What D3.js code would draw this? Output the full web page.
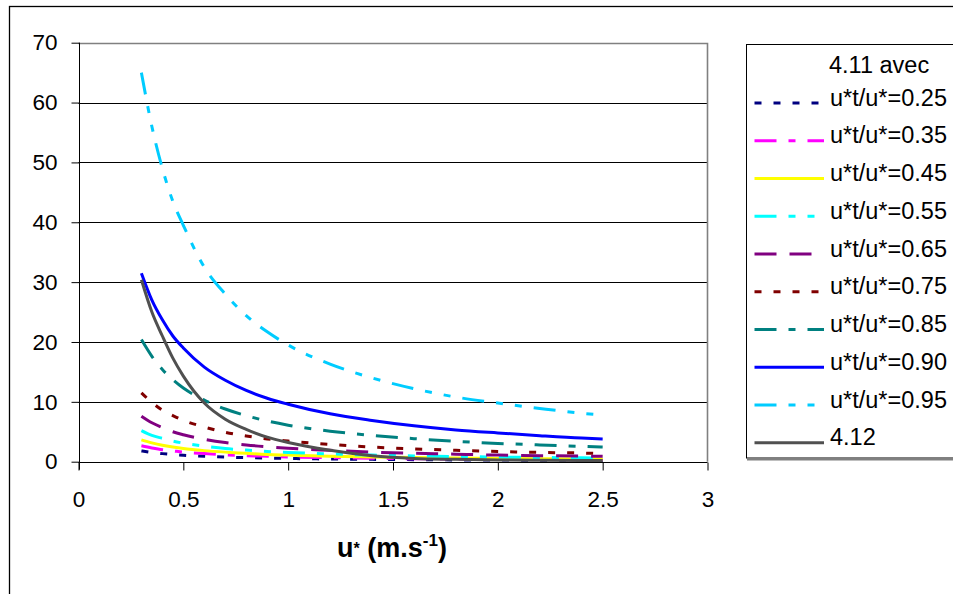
<!DOCTYPE html>
<html>
<head>
<meta charset="utf-8">
<script src="https://cdn.jsdelivr.net/npm/d3@7"></script>
<style>
  html, body { margin: 0; padding: 0; background: #fff; }
  svg { display: block; }
  text { font-family: "Liberation Sans", Arial, sans-serif; fill: #000; }
</style>
</head>
<body>
<svg id="chart" width="953" height="594"></svg>
<script>
// ---- data ----
const uValues = [0.3, 0.35, 0.4, 0.45, 0.5, 0.6, 0.7, 0.8, 0.9, 1.0, 1.2, 1.4, 1.6, 1.8, 2.0, 2.2, 2.4, 2.5];

const s025 = [1.8, 1.55, 1.35, 1.2, 1.08, 0.9, 0.77, 0.68, 0.6, 0.54, 0.45, 0.39, 0.34, 0.3, 0.27, 0.25, 0.23, 0.22];
const s035 = [2.65, 2.3, 2.0, 1.8, 1.6, 1.35, 1.15, 1.0, 0.9, 0.8, 0.67, 0.57, 0.5, 0.45, 0.4, 0.36, 0.33, 0.32];
const s045 = [3.65, 3.15, 2.75, 2.45, 2.2, 1.85, 1.6, 1.4, 1.2, 1.1, 0.92, 0.79, 0.69, 0.61, 0.55, 0.5, 0.46, 0.44];
const s055 = [5.2, 4.4, 3.9, 3.45, 3.1, 2.6, 2.2, 1.95, 1.7, 1.55, 1.3, 1.1, 0.97, 0.86, 0.78, 0.7, 0.65, 0.62];
const s065 = [7.6, 6.5, 5.7, 5.0, 4.5, 3.75, 3.2, 2.8, 2.5, 2.25, 1.9, 1.6, 1.4, 1.25, 1.1, 1.0, 0.95, 0.9];
const s075 = [11.5, 9.9, 8.6, 7.7, 6.9, 5.8, 4.9, 4.3, 3.8, 3.45, 2.9, 2.45, 2.15, 1.9, 1.7, 1.55, 1.45, 1.35];
const s085 = [20.4, 17.6, 15.4, 13.7, 12.3, 10.3, 8.8, 7.7, 6.8, 6.1, 5.1, 4.4, 3.85, 3.4, 3.05, 2.8, 2.55, 2.45];
const s090 = [31.5, 27, 23.7, 21, 19, 15.8, 13.6, 11.9, 10.6, 9.6, 8.0, 6.9, 6.0, 5.3, 4.8, 4.35, 3.95, 3.8];
const s095 = [65, 56, 49, 43.5, 39.5, 32.5, 28, 24.4, 21.7, 19.5, 16.3, 14, 12.2, 10.8, 9.8, 8.9, 8.1, 7.8];
const s412 = [30.4, 25, 21, 17.3, 14.3, 9.8, 7.1, 5.4, 4.1, 3.2, 1.9, 1.0, 0.55, 0.4, 0.3, 0.25, 0.22, 0.2];

const seriesNames = ["u*t/u*=0.25", "u*t/u*=0.35", "u*t/u*=0.45", "u*t/u*=0.55", "u*t/u*=0.65",
                     "u*t/u*=0.75", "u*t/u*=0.85", "u*t/u*=0.90", "u*t/u*=0.95", "4.12"];
const seriesValues = [s025, s035, s045, s055, s065, s075, s085, s090, s095, s412];
const legendTitle = "4.11 avec";

const xTicks = [0, 0.5, 1, 1.5, 2, 2.5, 3];
const yTicks = [0, 10, 20, 30, 40, 50, 60, 70];

// ---- styles ----
const colors = ["#000080", "#FF00FF", "#FFFF00", "#00FFFF", "#800080", "#800000", "#008080", "#0000FF", "#00CCFF", "#505050"];
const dashes = ["7,12", "22,12,7,12", null, "22,12,7,12,7,12", "22,13", "7,12", "22,12,7,12", null, "22,12,7,12,7,12", null];

const svg = d3.select("#chart");

// outer chart border
svg.append("rect").attr("x", 9.5).attr("y", 6.5).attr("width", 1000).attr("height", 700)
  .attr("fill", "none").attr("stroke", "#000").attr("stroke-width", 1.3);

const pLeft = 78.5, pRight = 707.5, pTop = 42.7, pBottom = 461.7;
const x = d3.scaleLinear().domain([0, 3]).range([pLeft, pRight]);
const y = d3.scaleLinear().domain([0, 70]).range([pBottom, pTop]);

// gridlines
svg.append("g").selectAll("line").data(yTicks.filter(d => d > 0 && d < 70)).join("line")
  .attr("x1", pLeft).attr("x2", pRight)
  .attr("y1", d => Math.round(y(d)) + 0.5).attr("y2", d => Math.round(y(d)) + 0.5)
  .attr("stroke", "#000").attr("stroke-width", 1);

// plot area frame (top & right gray)
svg.append("path")
  .attr("d", `M${pLeft},${Math.round(pTop)+0.5}H${pRight}V${pBottom}`)
  .attr("fill", "none").attr("stroke", "#808080").attr("stroke-width", 1.6);

// axes
const xAxis = d3.axisBottom(x).tickValues(xTicks).tickSize(8).tickPadding(21).tickFormat(d3.format("~g"));
const gx = svg.append("g").attr("transform", `translate(0,${Math.round(pBottom)+0.5})`).call(xAxis);
gx.select(".domain").attr("stroke", "#000").attr("d", `M${pLeft},0H${pRight}`);
gx.selectAll(".tick line").attr("stroke", "#000");
gx.selectAll("text").attr("font-family", "Liberation Sans, Arial, sans-serif").attr("font-size", 22.5).attr("fill", "#000");

const yAxis = d3.axisLeft(y).tickValues(yTicks).tickSize(8).tickPadding(14);
const gy = svg.append("g").attr("transform", `translate(${Math.round(pLeft)+0.5},0)`).call(yAxis);
gy.select(".domain").attr("stroke", "#000").attr("d", `M0,${pTop}V${pBottom + 8}`);
gy.selectAll(".tick line").attr("stroke", "#000");
gy.selectAll("text").attr("font-family", "Liberation Sans, Arial, sans-serif").attr("font-size", 22.5).attr("fill", "#000");

// series lines
const line = d3.line().x((d, i) => x(uValues[i])).y(d => y(d)).curve(d3.curveMonotoneX);
seriesValues.forEach((vals, k) => {
  svg.append("path").datum(vals)
    .attr("d", line)
    .attr("fill", "none")
    .attr("stroke", colors[k])
    .attr("stroke-width", 3)
    .attr("stroke-dasharray", dashes[k])
    .attr("stroke-linecap", "butt");
});

// x axis title
const title = svg.append("text").attr("x", 392).attr("y", 557).attr("text-anchor", "middle")
  .attr("font-size", 27).attr("font-weight", "bold");
title.append("tspan").text("u");
title.append("tspan").attr("font-size", 16).attr("dy", -3).text("*");
title.append("tspan").attr("dy", 3).text(" (m.s");
title.append("tspan").attr("font-size", 17).attr("dy", -11).text("-1");
title.append("tspan").attr("dy", 11).text(")");

// legend
const lg = svg.append("g");
lg.append("rect").attr("x", 747).attr("y", 459).attr("width", 300).attr("height", 1.5).attr("fill", "#808080");
lg.append("rect").attr("x", 746.5).attr("y", 44.5).attr("width", 300).attr("height", 413.5)
  .attr("fill", "#fff").attr("stroke", "#000").attr("stroke-width", 1);
lg.append("text").attr("x", 829).attr("y", 73.3).attr("font-size", 23.5).text(legendTitle);
seriesNames.forEach((name, k) => {
  const ly = 103 + k * 37.75;
  lg.append("line").attr("x1", 754.5).attr("x2", 824).attr("y1", ly).attr("y2", ly)
    .attr("stroke", colors[k]).attr("stroke-width", 3)
    .attr("stroke-dasharray", dashes[k]);
  lg.append("text").attr("x", 830).attr("y", ly + 2.5).attr("font-size", 23.5).text(name);
});
</script>
</body>
</html>
